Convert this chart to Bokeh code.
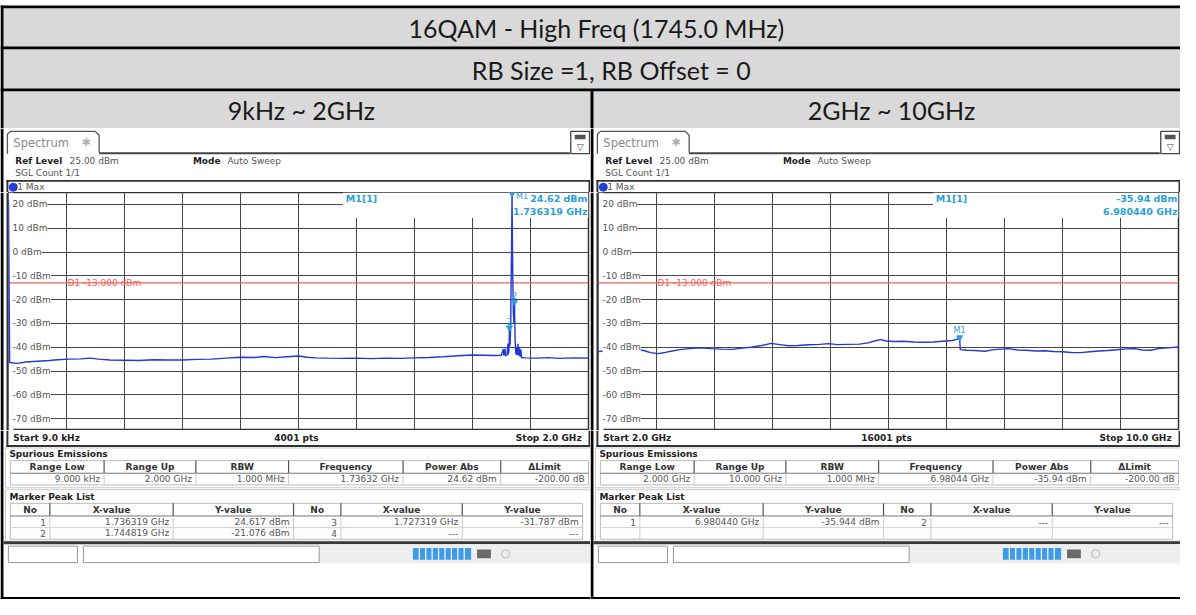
from bokeh.plotting import figure
from bokeh.layouts import column, row
from bokeh.models import Range1d, FixedTicker, ColumnDataSource, LabelSet
from bokeh.core.properties import value
from bokeh.embed import file_html
from bokeh.resources import INLINE

# ---------------- data ----------------
title_text = "16QAM - High Freq (1745.0 MHz)"
subtitle_text = "RB Size =1, RB Offset = 0"
range_titles = ["9kHz ~ 2GHz", "2GHz ~ 10GHz"]

ref_level_dbm = 25.0
bottom_dbm = -75.0
y_tick_dbm = [20, 10, 0, -10, -20, -30, -40, -50, -60, -70]
y_tick_labels = ["20 dBm", "10 dBm", "0 dBm", "-10 dBm", "-20 dBm", "-30 dBm",
                 "-40 dBm", "-50 dBm", "-60 dBm", "-70 dBm"]
limit_dbm = -13.0
limit_label = "D1  -13.000 dBm"

left_start_ghz = 0.000009
left_stop_ghz = 2.0
left_grid_ghz = [0.2, 0.4, 0.6, 0.8, 1.0, 1.2, 1.4, 1.6, 1.8]
left_freq_ghz = [0.000009, 0.004, 0.03, 0.06, 0.10, 0.14, 0.17, 0.207, 0.25, 0.28,
                 0.31, 0.35, 0.40, 0.45, 0.50, 0.55, 0.60, 0.65, 0.70, 0.75,
                 0.80, 0.85, 0.88, 0.92, 0.96, 1.00, 1.03, 1.06, 1.10, 1.15,
                 1.20, 1.25, 1.30, 1.35, 1.40, 1.45, 1.50, 1.55, 1.60, 1.64,
                 1.68, 1.70, 1.706, 1.708, 1.712, 1.714, 1.719, 1.722, 1.724, 1.7263,
                 1.727319, 1.7283, 1.730, 1.7318, 1.733, 1.7348, 1.736319, 1.7378, 1.739, 1.741,
                 1.743, 1.744819, 1.7463, 1.748, 1.750, 1.752, 1.754, 1.757, 1.759, 1.762,
                 1.764, 1.767, 1.769, 1.78, 1.82, 1.86, 1.90, 1.95, 2.0]
left_level_dbm = [22.0, -46.4, -46.8, -46.2, -45.9, -45.6, -45.3, -45.0, -44.9, -44.6,
                  -45.0, -45.4, -45.5, -45.6, -45.3, -45.4, -45.4, -45.1, -45.0, -44.6,
                  -44.2, -44.3, -43.9, -44.4, -44.0, -43.7, -44.2, -44.5, -44.6, -44.7,
                  -44.6, -44.8, -44.6, -44.7, -44.5, -44.3, -44.0, -43.6, -43.3, -43.4,
                  -43.5, -43.4, -40.8, -43.5, -40.6, -43.6, -43.3, -38.5, -43.0, -40.0,
                  -31.787, -39.5, -38.0, -30.0, -15.0, 2.0, 24.617, 4.0, -12.0, -26.0,
                  -30.0, -21.076, -33.0, -40.5, -43.0, -39.8, -43.4, -38.6, -43.5, -40.2,
                  -44.0, -41.0, -44.3, -44.5, -44.6, -44.4, -44.7, -44.5, -44.6]
left_marker_lbl = ["M1", "2", "3"]
left_marker_ghz = [1.736319, 1.744819, 1.727319]
left_marker_dbm = [24.617, -21.076, -31.787]
left_readout = ["24.62 dBm", "1.736319 GHz"]

right_start_ghz = 2.0
right_stop_ghz = 10.0
right_grid_ghz = [2.8, 3.6, 4.4, 5.2, 6.0, 6.8, 7.6, 8.4, 9.2]
right_freq_ghz = [2.00, 2.10, 2.20, 2.35, 2.45, 2.55, 2.62, 2.72, 2.82, 2.92,
                  3.02, 3.12, 3.25, 3.40, 3.55, 3.70, 3.85, 3.95, 4.10, 4.25,
                  4.38, 4.50, 4.62, 4.75, 4.90, 5.05, 5.17, 5.30, 5.45, 5.60,
                  5.72, 5.82, 5.89, 5.97, 6.08, 6.20, 6.35, 6.50, 6.62, 6.75,
                  6.88, 6.95, 6.98044, 6.99, 7.08, 7.20, 7.33, 7.45, 7.55, 7.65,
                  7.78, 7.90, 8.03, 8.15, 8.28, 8.40, 8.52, 8.65, 8.78, 8.90,
                  9.02, 9.15, 9.28, 9.40, 9.50, 9.62, 9.72, 9.85, 10.0]
right_level_dbm = [-41.8, -41.6, -41.4, -41.6, -41.3, -41.0, -41.4, -42.3, -42.7, -42.2,
                   -41.6, -41.0, -40.6, -40.3, -40.6, -40.8, -40.9, -40.5, -40.0, -39.3,
                   -38.4, -38.9, -39.4, -39.3, -39.0, -38.8, -38.5, -38.9, -38.8, -38.7,
                   -38.2, -37.3, -36.8, -37.4, -37.6, -37.5, -37.8, -37.9, -37.8, -37.5,
                   -37.2, -36.6, -35.944, -41.0, -41.3, -41.4, -41.7, -41.0, -40.8, -40.6,
                   -41.2, -41.3, -41.6, -41.5, -41.8, -41.9, -42.2, -42.3, -41.9, -41.6,
                   -41.4, -41.1, -40.7, -40.6, -41.2, -41.3, -40.6, -40.3, -39.9]
right_marker_lbl = ["M1"]
right_marker_ghz = [6.98044]
right_marker_dbm = [-35.944]
right_readout = ["-35.94 dBm", "6.980440 GHz"]

left_sweep = ["Start 9.0 kHz", "4001 pts", "Stop 2.0 GHz"]
right_sweep = ["Start 2.0 GHz", "16001 pts", "Stop 10.0 GHz"]

spur_headers = ["Range Low", "Range Up", "RBW", "Frequency", "Power Abs", "\u0394Limit"]
left_spur_values = ["9.000 kHz", "2.000 GHz", "1.000 MHz", "1.73632 GHz", "24.62 dBm", "-200.00 dB"]
right_spur_values = ["2.000 GHz", "10.000 GHz", "1.000 MHz", "6.98044 GHz", "-35.94 dBm", "-200.00 dB"]

peak_headers = ["No", "X-value", "Y-value", "No", "X-value", "Y-value"]
left_peak_rows = [["1", "1.736319 GHz", "24.617 dBm", "3", "1.727319 GHz", "-31.787 dBm"],
                  ["2", "1.744819 GHz", "-21.076 dBm", "4", "---", "---"]]
right_peak_rows = [["1", "6.980440 GHz", "-35.944 dBm", "2", "---", "---"],
                   ["", "", "", "", "", ""]]

# ---------------- styling ----------------
FONT = "DejaVu Sans"
TRACE = "#2239d8"
MARK = "#2a9fd8"
LIMIT = "#f0625a"
GRID = "#474747"

spur_edges = [10, 105, 198, 292, 408, 507, 596]
peak_edges = [10, 50, 175, 297, 345, 468, 590]

H_HEAD, H_TOP, H_SPEC, H_BOT = 128, 64, 238, 169


def base_fig(w, h, xr, yr):
    p = figure(width=w, height=h, x_range=Range1d(*xr), y_range=Range1d(*yr),
               toolbar_location=None, output_backend="svg",
               x_axis_location=None, y_axis_location=None,
               min_border_left=0, min_border_right=0, min_border_top=0, min_border_bottom=0,
               outline_line_color=None, background_fill_color="white", border_fill_color="white")
    p.grid.visible = False
    return p


def T(p, x, y, s, size=9, bold=False, color="#333333", align="left", font=FONT, baseline="middle"):
    p.text(x=[x], y=[y], text=[s], text_font=value(font), text_font_size=f"{size}px",
           text_font_style="bold" if bold else "normal", text_color=color,
           text_align=align, text_baseline=baseline)


def Q(p, l, r, t, b, fill, line=None, lw=1.0):
    p.quad(left=[l], right=[r], top=[t], bottom=[b], fill_color=fill,
           line_color=line, line_width=lw)


# ---------------- header ----------------
head = base_fig(1180, H_HEAD, (0, 1196), (131, 0))
Q(head, 0, 1196, 8, 131, "#d9d9d9")
Q(head, 0, 1196, 5, 8, "black")
Q(head, 0, 1196, 47, 50, "black")
Q(head, 0, 1196, 90, 93, "black")
Q(head, 0, 3, 5, 131, "black")
Q(head, 598, 601, 93, 131, "black")
T(head, 604, 28.5, title_text, 25, color="#1a1a1a", align="center", font="Lato")
T(head, 619, 71, subtitle_text, 25, color="#1a1a1a", align="center", font="Lato")
T(head, 305, 112, range_titles[0], 25, color="#1a1a1a", align="center", font="Lato")
T(head, 903, 112, range_titles[1], 25, color="#1a1a1a", align="center", font="Lato")


def top_fig():
    b = base_fig(590, H_TOP, (0, 598), (197, 131))
    Q(b, 0, 3, 131, 197, "black")
    b.line([7, 7, 10, 96, 100, 100], [157, 137, 134, 134, 138, 156], line_color="#555555", line_width=1.3)
    Q(b, 100, 577, 155.5, 157.5, "#444444")
    T(b, 13, 145.5, "Spectrum", 11.5, color="#8a8a8a")
    T(b, 82, 145.5, "\u2731", 11, color="#b0b0b0")
    Q(b, 578, 597, 134, 157, "white", "#444444", 1.3)
    Q(b, 582, 593, 137.5, 142, "#555555")
    T(b, 587.5, 150.5, "\u25bd", 9, color="#444444", align="center")
    T(b, 15, 165, "Ref Level", 9, bold=True, color="#222222")
    T(b, 70, 165, "25.00 dBm", 9, color="#555555")
    T(b, 195, 165, "Mode", 9, bold=True, color="#222222")
    T(b, 230, 165, "Auto Sweep", 9, color="#555555")
    T(b, 15, 177, "SGL Count 1/1", 9, color="#555555")
    Q(b, 6, 598, 184, 186, "#333333")
    Q(b, 6, 8, 184, 197, "#333333")
    Q(b, 596, 598, 184, 197, "#333333")
    b.scatter(x=[13], y=[191.5], size=8, color="#1f3fd8")
    T(b, 17, 191.5, "1 Max", 9, color="#555555")
    return b


def edge_fig():
    e = base_fig(8, H_SPEC, (0, 8), (0, 1))
    Q(e, 0, 3, 0, 1, "black")
    Q(e, 6, 8, 0, 1, "#333333")
    return e


def spectrum_fig(x0, x1, xgrid, freq, level, mlbl, mx, my, readout):
    p = figure(width=582, height=H_SPEC, x_range=Range1d(x0, x1),
               y_range=Range1d(bottom_dbm, ref_level_dbm),
               toolbar_location=None, output_backend="svg",
               x_axis_location=None, y_axis_location=None,
               min_border_left=0, min_border_right=2, min_border_top=0, min_border_bottom=0,
               outline_line_color="#333333", outline_line_width=1.5,
               background_fill_color="white", border_fill_color="white")
    p.xgrid.ticker = FixedTicker(ticks=xgrid)
    p.ygrid.ticker = FixedTicker(ticks=y_tick_dbm)
    for g in (p.xgrid, p.ygrid):
        g.grid_line_color = GRID
        g.grid_line_width = 1
        g.grid_line_alpha = 1.0
    span = x1 - x0
    # blank strip in front of the level labels
    p.quad(left=[x0], right=[x0 + 0.0085 * span], top=[ref_level_dbm], bottom=[bottom_dbm],
           fill_color="white", line_color=None)
    # marker read-out area (blank region at top right)
    p.quad(left=[x0 + 0.5765 * span], right=[x1], top=[ref_level_dbm], bottom=[14.3],
           fill_color="white", line_color=None)
    # limit line
    p.line([x0, x1], [limit_dbm, limit_dbm], line_color=LIMIT, line_width=1.2)
    p.text(x=[xgrid[0]], y=[limit_dbm], text=[limit_label], text_font=value(FONT),
           text_font_size="9px", text_color=LIMIT, text_baseline="middle", x_offset=1)
    # y tick labels
    src = ColumnDataSource(dict(x=[x0] * len(y_tick_dbm), y=y_tick_dbm, t=y_tick_labels))
    p.add_layout(LabelSet(x="x", y="y", text="t", source=src, x_offset=4,
                          text_baseline="middle", text_font=value(FONT), text_font_size="9px",
                          text_color="#555555", background_fill_color="white"))
    # trace
    p.line(freq, level, line_color=TRACE, line_width=1.4)
    # markers
    p.scatter(mx, my, marker="inverted_triangle", size=6, color=MARK)
    hi = [i for i in range(len(my)) if my[i] > 15]
    lo = [i for i in range(len(my)) if my[i] <= 15]
    if hi:
        p.text(x=[mx[i] for i in hi], y=[my[i] for i in hi], text=[mlbl[i] for i in hi],
               text_font=value(FONT), text_font_size="8px", text_color=MARK,
               text_align="left", text_baseline="middle", x_offset=4, y_offset=3)
    if lo:
        p.text(x=[mx[i] for i in lo], y=[my[i] for i in lo], text=[mlbl[i] for i in lo],
               text_font=value(FONT), text_font_size="8px", text_color=MARK,
               text_align="center", text_baseline="bottom", y_offset=-3)
    # read-out texts
    p.text(x=[x0 + 0.5816 * span], y=[22.3], text=["M1[1]"], text_font=value(FONT),
           text_font_size="9.5px", text_font_style="bold", text_color=MARK, text_baseline="middle")
    p.text(x=[x1, x1], y=[22.3, 17.0], text=readout, text_font=value(FONT),
           text_font_size="9.5px", text_font_style="bold", text_color=MARK,
           text_align="right", text_baseline="middle", x_offset=-1)
    return p


def bottom_fig(sweep, spur_vals, peak_rows):
    d = base_fig(590, H_BOT, (0, 598), (615, 441))
    Q(d, 0, 3, 441, 615, "black")
    Q(d, 0, 598, 612.5, 615, "black")
    Q(d, 6, 8, 441, 458, "#333333")
    Q(d, 596, 598, 441, 458, "#333333")
    Q(d, 6, 598, 456, 458, "#333333")
    T(d, 13, 448.5, sweep[0], 9, bold=True, color="#222222")
    T(d, 300, 448.5, sweep[1], 9, bold=True, color="#222222", align="center")
    T(d, 589, 448.5, sweep[2], 9, bold=True, color="#222222", align="right")

    # spurious emissions table
    Q(d, 5, 598, 459, 500, "white", "#c8c8c8")
    T(d, 9, 465, "Spurious Emissions", 9, bold=True, color="#222222")
    Q(d, spur_edges[0], spur_edges[-1], 472, 497, "white", "#bbbbbb")
    d.segment(x0=[spur_edges[0]], y0=[485], x1=[spur_edges[-1]], y1=[485], line_color="#777777")
    inner = spur_edges[1:-1]
    d.segment(x0=inner, y0=[472] * len(inner), x1=inner, y1=[485] * len(inner), line_color="#555555", line_width=1.2)
    d.segment(x0=inner, y0=[485] * len(inner), x1=inner, y1=[497] * len(inner), line_color="#cccccc")
    for i, h in enumerate(spur_headers):
        T(d, (spur_edges[i] + spur_edges[i + 1]) / 2, 478.5, h, 9, bold=True, color="#333333", align="center")
        T(d, spur_edges[i + 1] - 4, 491, spur_vals[i], 9, color="#555555", align="right")

    # marker peak list
    Q(d, 5, 598, 502, 555, "white", "#c8c8c8")
    T(d, 9, 509, "Marker Peak List", 9, bold=True, color="#222222")
    Q(d, peak_edges[0], peak_edges[-1], 516, 553, "white", "#bbbbbb")
    d.segment(x0=[peak_edges[0]], y0=[529], x1=[peak_edges[-1]], y1=[529], line_color="#777777")
    d.segment(x0=[peak_edges[0]], y0=[541], x1=[peak_edges[-1]], y1=[541], line_color="#d0d0d0")
    inner = peak_edges[1:-1]
    d.segment(x0=inner, y0=[516] * len(inner), x1=inner, y1=[529] * len(inner), line_color="#555555", line_width=1.2)
    d.segment(x0=inner, y0=[529] * len(inner), x1=inner, y1=[553] * len(inner), line_color="#cccccc")
    for i, h in enumerate(peak_headers):
        T(d, (peak_edges[i] + peak_edges[i + 1]) / 2, 522.5, h, 9, bold=True, color="#333333", align="center")
        for r, yy in zip(peak_rows, (535.5, 547)):
            if r[i]:
                T(d, peak_edges[i + 1] - 4, yy, r[i], 9, color="#555555", align="right")

    # status bar
    Q(d, 3, 598, 555, 558, "#3a3a3a")
    Q(d, 323, 598, 558, 578, "#eeeeee")
    Q(d, 8, 78, 560, 577, "white", "#999999")
    Q(d, 84, 323, 560, 577, "white", "#999999")
    Q(d, 418, 477, 562, 574, "#3d9be9")
    seps = [424.5, 431, 437.5, 444, 450.5, 457, 463.5, 470]
    d.segment(x0=seps, y0=[562] * len(seps), x1=seps, y1=[574] * len(seps), line_color="white", line_width=1.2)
    Q(d, 483, 497, 563.5, 572.5, "#6a6a6a")
    d.scatter(x=[512], y=[568], size=8, fill_color=None, line_color="#bbbbbb")
    return d


def panel(x0, x1, xgrid, freq, level, mlbl, mx, my, readout, sweep, spur_vals, peak_rows):
    return column(top_fig(),
                  row(edge_fig(), spectrum_fig(x0, x1, xgrid, freq, level, mlbl, mx, my, readout), spacing=0),
                  bottom_fig(sweep, spur_vals, peak_rows), spacing=0)


left = panel(left_start_ghz, left_stop_ghz, left_grid_ghz, left_freq_ghz, left_level_dbm,
             left_marker_lbl, left_marker_ghz, left_marker_dbm, left_readout,
             left_sweep, left_spur_values, left_peak_rows)
right = panel(right_start_ghz, right_stop_ghz, right_grid_ghz, right_freq_ghz, right_level_dbm,
              right_marker_lbl, right_marker_ghz, right_marker_dbm, right_readout,
              right_sweep, right_spur_values, right_peak_rows)

p = column(head, row(left, right, spacing=0), spacing=0)

open("out.html", "w").write(file_html(p, INLINE))
